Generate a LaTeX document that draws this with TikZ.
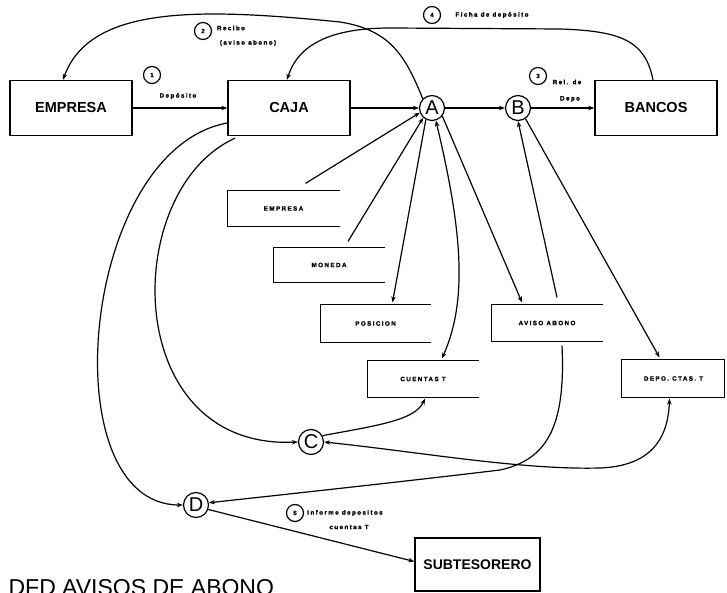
\documentclass[tikz,border=0pt]{standalone}
\usepackage{fontspec}
\setmainfont{Liberation Sans}
\newfontfamily\storefont{Liberation Sans Bold}[LetterSpace=22,FakeBold=1.2]
\newfontfamily\numfont{Liberation Sans Bold}[FakeBold=1.2]
\usetikzlibrary{arrows.meta}
\begin{document}
\begin{tikzpicture}[x=1pt,y=-1pt,
  line width=1.2pt,
  flow/.style={-{Stealth[length=6pt,width=4.5pt]}},
  biflow/.style={{Stealth[length=6pt,width=4.5pt]}-{Stealth[length=6pt,width=4.5pt]}},
  entity/.style={draw, line width=1.4pt, inner sep=0pt, minimum width=122pt, minimum height=55pt,
    font=\fontsize{14.5}{16}\selectfont\bfseries},
  bubble/.style={draw, circle, line width=1.2pt, minimum size=25pt, inner sep=0pt,
    font=\fontsize{20}{21}\selectfont},
  store/.style={inner sep=0pt, font=\storefont\fontsize{6.3}{7}\selectfont},
  storeline/.style={line width=1.3pt},
  stepnum/.style={draw, circle, line width=1.2pt, minimum size=17pt, inner sep=0pt,
    font=\numfont\fontsize{6}{7}\selectfont},
  flowlabel/.style={inner sep=0pt, font=\storefont\fontsize{6.3}{7}\selectfont},
]
\useasboundingbox (0,0) rectangle (727,593);

% external entities
\node[entity] (emp) at (71,108) {EMPRESA};
\node[entity] (caja) at (289,108) {CAJA};
\node[entity] (bancos) at (656,108) {BANCOS};
\node[entity, minimum width=125pt, minimum height=53pt, font=\fontsize{14}{16}\selectfont\bfseries] (subt) at (477.5,564.5) {SUBTESORERO};

% processes
\node[bubble] (A) at (432,108) {A};
\node[bubble] (B) at (518,108) {B};
\node[bubble] (C) at (311,442) {C};
\node[bubble] (D) at (196,505) {D};

% data stores (open on the right)
\node[store, minimum width=111pt, minimum height=35pt] (e2) at (283.5,208.5) {EMPRESA};
\node[store, minimum width=110pt, minimum height=34pt] (mon) at (329,265) {MONEDA};
\node[store, minimum width=109pt, minimum height=37pt] (pos) at (375.5,323.5) {POSICION};
\node[store, minimum width=110pt, minimum height=36pt] (aviso) at (547,323) {AVISO ABONO};
\node[store, minimum width=110pt, minimum height=36pt] (cta) at (423,379) {CUENTAS T};
\node[store, minimum width=103pt, minimum height=37pt] (depo) at (673.5,378.5) {DEPO. CTAS. T};
\foreach \s in {e2,mon,pos,aviso,cta}
  \draw[storeline] (\s.north east) -- (\s.north west) -- (\s.south west) -- (\s.south east);
\draw[storeline] (depo.north west) rectangle ([xshift=-1pt]depo.south east);

% step labels
\node[stepnum] (n1) at (152,75) {1};
\node[flowlabel] (l1) at (178,96) {Depósito};
\node[stepnum] (n2) at (203,31) {2};
\node[flowlabel] (l2a) at (231,28) {Recibo};
\node[flowlabel] (l2b) at (248,43) {(aviso abono)};
\node[stepnum] (n3) at (538,76) {3};
\node[flowlabel] (l3a) at (567,82) {Rel. de};
\node[flowlabel] (l3b) at (570,99) {Depo};
\node[stepnum] (n4) at (432,15) {4};
\node[flowlabel] (l4) at (492,15) {Ficha de depósito};
\node[stepnum] (n5) at (295,513) {5};
\node[flowlabel] (l5a) at (345,513) {Informe depositos};
\node[flowlabel] (l5b) at (349,527) {cuentas T};

% title
\node[anchor=base west, inner sep=0pt, font=\fontsize{23}{24}\selectfont] (title) at (8,595) {DFD AVISOS DE ABONO};

% main flow
\draw[flow] (emp) -- (caja);
\draw[flow] (caja) -- (A);
\draw[flow] (A) -- (B);
\draw[flow] (B) -- (bancos);

% receipt back to the company
\draw[flow] (A.north west) .. controls (405,55) and (390,30) .. (340,22)
  .. controls (200,8) and (90,5) .. ([xshift=-8pt]emp.north);
% deposit slip from the banks
\draw[flow] ([xshift=-3pt]bancos.north) .. controls (645,40) and (620,31) .. (560,29)
  -- (390,28) .. controls (330,28) and (298,45) .. ([xshift=-2pt]caja.north);

% stores around A
\draw[flow] ([xshift=22pt,yshift=7pt]e2.north) -- (A.201);
\draw[flow] ([xshift=19pt,yshift=6pt]mon.north) -- (A.228);
\draw[flow] (A.242) -- ([xshift=17pt,yshift=2pt]pos.north);
\draw[biflow] (A.287) .. controls (462,230) and (468,300) .. ([xshift=19pt,yshift=2pt]cta.north);
\draw[flow] (A.322) -- ([xshift=-25pt,yshift=2pt]aviso.north);

% stores around B
\draw[flow] ([xshift=10pt,yshift=7pt]aviso.north) -- (B.270);
\draw[flow] (B.305) -- ([xshift=-14pt,yshift=2pt]depo.north);

% lower flows
\draw[flow] ([xshift=-54pt,yshift=-2pt]caja.south) .. controls (120,190) and (120,450) .. (C.west);
\draw[flow] ([yshift=-15pt]caja.west) .. controls (80,150) and (50,505) .. (D.west);
\draw[biflow] ([xshift=-4pt,yshift=-1pt]depo.south) .. controls (668,440) and (650,466) .. (600,468)
  .. controls (520,470) and (420,452) .. (C.east);
\draw[flow] ([xshift=15pt,yshift=-4pt]aviso.south) .. controls (566,430) and (545,460) .. (500,470)
  .. controls (400,482) and (280,495) .. (D.10);
\draw[flow] (C.29) .. controls (380,425) and (415,420) .. ([xshift=2pt,yshift=-1pt]cta.south);
\draw[flow] (D.-20) -- ([yshift=3pt]subt.west);
\end{tikzpicture}
\end{document}
